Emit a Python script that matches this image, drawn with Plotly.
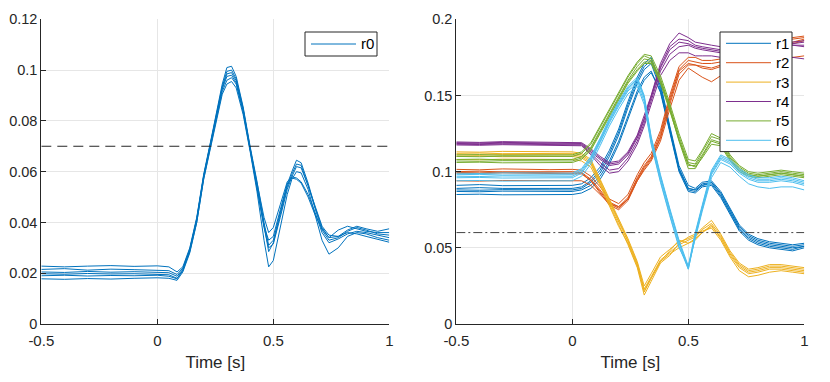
import plotly.graph_objects as go

# ---------------- data ----------------
t_left = [-0.5, -0.4, -0.3, -0.2, -0.1, 0, 0.05, 0.085, 0.11, 0.14, 0.17, 0.2, 0.23, 0.26, 0.28,
          0.3, 0.32, 0.34, 0.37, 0.4, 0.43, 0.46, 0.48, 0.5, 0.53, 0.56, 0.58, 0.6, 0.62, 0.65,
          0.68, 0.71, 0.74, 0.78, 0.82, 0.86, 0.9, 0.95, 1.0]

r0_trials = [
    [0.0228, 0.0225, 0.0228, 0.0230, 0.0227, 0.0229, 0.0225, 0.0205, 0.0225, 0.0300, 0.0420, 0.0590, 0.0720,
     0.0860, 0.0945, 0.1010, 0.1015, 0.0975, 0.0855, 0.0700, 0.0560, 0.0400, 0.0310, 0.0330, 0.0440, 0.0550,
     0.0600, 0.0645, 0.0635, 0.0555, 0.0460, 0.0380, 0.0340, 0.0345, 0.0370, 0.0385, 0.0375, 0.0365, 0.0375],
    [0.0215, 0.0218, 0.0212, 0.0216, 0.0214, 0.0213, 0.0210, 0.0195, 0.0220, 0.0295, 0.0415, 0.0585, 0.0715,
     0.0855, 0.0935, 0.0995, 0.1000, 0.0965, 0.0850, 0.0695, 0.0550, 0.0390, 0.0285, 0.0320, 0.0430, 0.0540,
     0.0590, 0.0630, 0.0625, 0.0545, 0.0455, 0.0370, 0.0330, 0.0340, 0.0365, 0.0380, 0.0370, 0.0355, 0.0350],
    [0.0205, 0.0203, 0.0207, 0.0204, 0.0206, 0.0205, 0.0202, 0.0188, 0.0215, 0.0290, 0.0410, 0.0580, 0.0710,
     0.0845, 0.0925, 0.0975, 0.0980, 0.0950, 0.0840, 0.0690, 0.0560, 0.0420, 0.0360, 0.0380, 0.0470, 0.0560,
     0.0580, 0.0575, 0.0560, 0.0510, 0.0440, 0.0360, 0.0320, 0.0335, 0.0355, 0.0365, 0.0360, 0.0350, 0.0340],
    [0.0198, 0.0196, 0.0199, 0.0197, 0.0198, 0.0196, 0.0194, 0.0180, 0.0210, 0.0285, 0.0400, 0.0570, 0.0700,
     0.0830, 0.0905, 0.0945, 0.0955, 0.0930, 0.0825, 0.0680, 0.0520, 0.0330, 0.0225, 0.0250, 0.0380, 0.0510,
     0.0570, 0.0600, 0.0595, 0.0530, 0.0430, 0.0330, 0.0275, 0.0300, 0.0345, 0.0360, 0.0355, 0.0340, 0.0330],
    [0.0190, 0.0192, 0.0189, 0.0191, 0.0190, 0.0192, 0.0188, 0.0178, 0.0212, 0.0292, 0.0412, 0.0582, 0.0712,
     0.0850, 0.0930, 0.0985, 0.0990, 0.0958, 0.0845, 0.0690, 0.0545, 0.0385, 0.0330, 0.0345, 0.0450, 0.0550,
     0.0575, 0.0570, 0.0555, 0.0500, 0.0430, 0.0375, 0.0340, 0.0370, 0.0385, 0.0375, 0.0365, 0.0360, 0.0360],
    [0.0178, 0.0176, 0.0179, 0.0177, 0.0180, 0.0182, 0.0180, 0.0172, 0.0205, 0.0280, 0.0400, 0.0572, 0.0702,
     0.0835, 0.0915, 0.0960, 0.0970, 0.0945, 0.0835, 0.0685, 0.0540, 0.0380, 0.0300, 0.0315, 0.0420, 0.0530,
     0.0580, 0.0620, 0.0615, 0.0545, 0.0465, 0.0385, 0.0350, 0.0345, 0.0360, 0.0355, 0.0345, 0.0335, 0.0322],
]

t_right = [-0.5, -0.4, -0.3, -0.2, -0.1, 0, 0.04, 0.08, 0.12, 0.16, 0.2, 0.24, 0.28, 0.31, 0.34, 0.38,
           0.42, 0.46, 0.5, 0.53, 0.56, 0.6, 0.64, 0.68, 0.72, 0.76, 0.8, 0.85, 0.9, 0.95, 1.0]

r1_trials = [
    [0.091, 0.0915, 0.0908, 0.091, 0.0912, 0.091, 0.092, 0.096, 0.103, 0.114, 0.128, 0.146, 0.162, 0.171, 0.175, 0.158,
     0.130, 0.104, 0.091, 0.089, 0.093, 0.094, 0.087, 0.076, 0.065, 0.059, 0.056, 0.054, 0.053, 0.052, 0.053],
    [0.089, 0.0895, 0.089, 0.0888, 0.089, 0.089, 0.090, 0.094, 0.101, 0.112, 0.126, 0.144, 0.160, 0.169, 0.173, 0.156,
     0.128, 0.102, 0.089, 0.088, 0.092, 0.093, 0.086, 0.075, 0.064, 0.058, 0.055, 0.053, 0.052, 0.051, 0.052],
    [0.088, 0.0878, 0.0882, 0.088, 0.0879, 0.088, 0.089, 0.093, 0.099, 0.110, 0.124, 0.142, 0.158, 0.167, 0.171, 0.154,
     0.127, 0.101, 0.088, 0.087, 0.091, 0.092, 0.084, 0.073, 0.062, 0.056, 0.053, 0.051, 0.050, 0.049, 0.051],
    [0.087, 0.0868, 0.0872, 0.087, 0.0869, 0.087, 0.088, 0.091, 0.097, 0.107, 0.120, 0.137, 0.153, 0.162, 0.166, 0.152,
     0.126, 0.100, 0.087, 0.086, 0.090, 0.091, 0.083, 0.072, 0.061, 0.055, 0.052, 0.050, 0.049, 0.048, 0.050],
    [0.085, 0.0852, 0.0848, 0.085, 0.0851, 0.085, 0.086, 0.089, 0.095, 0.105, 0.118, 0.135, 0.151, 0.160, 0.165, 0.153,
     0.128, 0.102, 0.089, 0.088, 0.091, 0.093, 0.085, 0.074, 0.063, 0.057, 0.054, 0.052, 0.051, 0.050, 0.051],
]

r2_trials = [
    [0.1015, 0.1012, 0.1018, 0.1015, 0.1013, 0.1015, 0.101, 0.097, 0.090, 0.082, 0.079, 0.085, 0.098, 0.106, 0.112, 0.127,
     0.150, 0.169, 0.175, 0.175, 0.173, 0.173, 0.174, 0.176, 0.178, 0.180, 0.182, 0.184, 0.186, 0.188, 0.189],
    [0.100, 0.1003, 0.0998, 0.100, 0.1002, 0.100, 0.0995, 0.095, 0.088, 0.080, 0.077, 0.083, 0.096, 0.104, 0.110, 0.125,
     0.148, 0.167, 0.173, 0.172, 0.171, 0.171, 0.172, 0.174, 0.176, 0.178, 0.180, 0.182, 0.185, 0.187, 0.188],
    [0.0995, 0.0992, 0.0997, 0.0995, 0.0994, 0.0995, 0.099, 0.094, 0.087, 0.079, 0.076, 0.082, 0.095, 0.103, 0.109, 0.123,
     0.146, 0.166, 0.171, 0.170, 0.169, 0.168, 0.170, 0.172, 0.174, 0.176, 0.178, 0.180, 0.182, 0.184, 0.186],
    [0.099, 0.0988, 0.0992, 0.099, 0.0991, 0.099, 0.0985, 0.094, 0.086, 0.078, 0.075, 0.081, 0.094, 0.102, 0.108, 0.122,
     0.144, 0.164, 0.170, 0.170, 0.168, 0.167, 0.169, 0.171, 0.173, 0.175, 0.177, 0.179, 0.182, 0.185, 0.187],
    [0.094, 0.0938, 0.0942, 0.094, 0.0939, 0.094, 0.094, 0.091, 0.085, 0.079, 0.077, 0.082, 0.094, 0.101, 0.107, 0.120,
     0.141, 0.160, 0.168, 0.165, 0.162, 0.159, 0.163, 0.165, 0.167, 0.169, 0.171, 0.173, 0.174, 0.175, 0.176],
]

r3_trials = [
    [0.113, 0.1128, 0.1133, 0.113, 0.1131, 0.113, 0.112, 0.108, 0.095, 0.082, 0.068, 0.056, 0.041, 0.025, 0.033, 0.044,
     0.049, 0.054, 0.056, 0.058, 0.063, 0.068, 0.059, 0.048, 0.040, 0.036, 0.037, 0.039, 0.039, 0.038, 0.037],
    [0.112, 0.1122, 0.1118, 0.112, 0.1121, 0.112, 0.111, 0.107, 0.094, 0.081, 0.067, 0.055, 0.040, 0.023, 0.031, 0.042,
     0.047, 0.052, 0.055, 0.057, 0.062, 0.066, 0.058, 0.047, 0.039, 0.035, 0.036, 0.038, 0.038, 0.037, 0.036],
    [0.111, 0.1108, 0.1112, 0.111, 0.1109, 0.111, 0.110, 0.106, 0.093, 0.080, 0.066, 0.054, 0.039, 0.021, 0.030, 0.041,
     0.046, 0.050, 0.053, 0.056, 0.060, 0.065, 0.056, 0.045, 0.037, 0.033, 0.034, 0.036, 0.036, 0.035, 0.034],
    [0.110, 0.1102, 0.1098, 0.110, 0.1101, 0.110, 0.109, 0.105, 0.092, 0.079, 0.065, 0.052, 0.037, 0.019, 0.028, 0.040,
     0.045, 0.053, 0.057, 0.059, 0.061, 0.063, 0.055, 0.044, 0.035, 0.031, 0.032, 0.034, 0.035, 0.034, 0.033],
    [0.108, 0.1078, 0.1082, 0.108, 0.1079, 0.108, 0.107, 0.103, 0.091, 0.078, 0.064, 0.053, 0.038, 0.022, 0.030, 0.041,
     0.048, 0.055, 0.053, 0.055, 0.060, 0.064, 0.057, 0.046, 0.038, 0.034, 0.035, 0.037, 0.037, 0.036, 0.035],
]

r4_trials = [
    [0.1195, 0.1192, 0.1197, 0.1195, 0.1194, 0.1195, 0.119, 0.115, 0.110, 0.106, 0.107, 0.113, 0.124, 0.137, 0.150, 0.171,
     0.184, 0.191, 0.188, 0.185, 0.184, 0.183, 0.182, 0.181, 0.181, 0.182, 0.183, 0.184, 0.185, 0.185, 0.186],
    [0.119, 0.1188, 0.1192, 0.119, 0.1189, 0.119, 0.1185, 0.114, 0.109, 0.105, 0.106, 0.112, 0.123, 0.135, 0.149, 0.169,
     0.182, 0.187, 0.186, 0.183, 0.182, 0.181, 0.180, 0.180, 0.180, 0.181, 0.182, 0.183, 0.184, 0.184, 0.185],
    [0.1185, 0.1183, 0.1187, 0.1185, 0.1184, 0.1185, 0.118, 0.113, 0.108, 0.104, 0.105, 0.111, 0.122, 0.134, 0.148, 0.168,
     0.180, 0.185, 0.184, 0.182, 0.181, 0.180, 0.179, 0.179, 0.179, 0.180, 0.181, 0.182, 0.183, 0.183, 0.183],
    [0.118, 0.1178, 0.1182, 0.118, 0.1179, 0.118, 0.1175, 0.112, 0.106, 0.101, 0.102, 0.109, 0.120, 0.132, 0.146, 0.166,
     0.177, 0.182, 0.183, 0.181, 0.180, 0.179, 0.178, 0.178, 0.179, 0.180, 0.181, 0.182, 0.182, 0.183, 0.182],
    [0.1175, 0.1173, 0.1177, 0.1175, 0.1174, 0.1175, 0.117, 0.111, 0.104, 0.099, 0.100, 0.107, 0.118, 0.130, 0.144, 0.163,
     0.173, 0.178, 0.178, 0.176, 0.176, 0.176, 0.175, 0.175, 0.175, 0.175, 0.175, 0.175, 0.175, 0.175, 0.174],
]

r5_trials = [
    [0.111, 0.1112, 0.1108, 0.111, 0.1111, 0.111, 0.113, 0.119, 0.130, 0.141, 0.152, 0.163, 0.172, 0.177, 0.176, 0.163,
     0.145, 0.125, 0.108, 0.107, 0.114, 0.125, 0.122, 0.111, 0.104, 0.100, 0.099, 0.100, 0.101, 0.100, 0.099],
    [0.110, 0.1098, 0.1102, 0.110, 0.1099, 0.110, 0.112, 0.118, 0.129, 0.140, 0.151, 0.162, 0.171, 0.176, 0.174, 0.161,
     0.143, 0.123, 0.106, 0.105, 0.113, 0.123, 0.121, 0.110, 0.103, 0.099, 0.098, 0.099, 0.100, 0.099, 0.098],
    [0.108, 0.1082, 0.1078, 0.108, 0.1081, 0.108, 0.110, 0.116, 0.127, 0.138, 0.149, 0.160, 0.169, 0.174, 0.173, 0.160,
     0.142, 0.121, 0.104, 0.104, 0.111, 0.121, 0.119, 0.109, 0.102, 0.098, 0.097, 0.098, 0.099, 0.098, 0.097],
    [0.107, 0.1068, 0.1072, 0.107, 0.1069, 0.107, 0.109, 0.115, 0.126, 0.137, 0.148, 0.159, 0.167, 0.172, 0.172, 0.159,
     0.141, 0.120, 0.102, 0.102, 0.110, 0.120, 0.118, 0.108, 0.101, 0.098, 0.097, 0.098, 0.099, 0.098, 0.097],
    [0.106, 0.1062, 0.1058, 0.106, 0.1061, 0.106, 0.108, 0.114, 0.125, 0.136, 0.147, 0.158, 0.166, 0.171, 0.171, 0.158,
     0.140, 0.121, 0.105, 0.103, 0.109, 0.118, 0.117, 0.107, 0.100, 0.097, 0.096, 0.097, 0.098, 0.097, 0.096],
]

r6_trials = [
    [0.099, 0.0988, 0.0992, 0.099, 0.0989, 0.099, 0.102, 0.110, 0.122, 0.135, 0.146, 0.156, 0.162, 0.150, 0.123, 0.098,
     0.076, 0.055, 0.038, 0.060, 0.078, 0.101, 0.111, 0.108, 0.102, 0.098, 0.096, 0.096, 0.097, 0.096, 0.094],
    [0.098, 0.0982, 0.0978, 0.098, 0.0981, 0.098, 0.101, 0.109, 0.121, 0.134, 0.145, 0.155, 0.161, 0.149, 0.122, 0.097,
     0.075, 0.054, 0.037, 0.059, 0.077, 0.100, 0.110, 0.107, 0.101, 0.097, 0.095, 0.095, 0.096, 0.095, 0.093],
    [0.097, 0.0968, 0.0972, 0.097, 0.0969, 0.097, 0.100, 0.108, 0.120, 0.133, 0.144, 0.154, 0.160, 0.148, 0.121, 0.096,
     0.074, 0.053, 0.036, 0.058, 0.076, 0.099, 0.109, 0.106, 0.100, 0.096, 0.094, 0.094, 0.095, 0.094, 0.092],
    [0.096, 0.0962, 0.0958, 0.096, 0.0961, 0.096, 0.099, 0.107, 0.119, 0.132, 0.143, 0.153, 0.158, 0.146, 0.119, 0.094,
     0.072, 0.051, 0.036, 0.057, 0.075, 0.098, 0.108, 0.105, 0.099, 0.095, 0.093, 0.093, 0.094, 0.093, 0.091],
    [0.094, 0.0942, 0.0938, 0.094, 0.0941, 0.094, 0.097, 0.105, 0.117, 0.130, 0.141, 0.151, 0.156, 0.144, 0.118, 0.093,
     0.071, 0.050, 0.038, 0.056, 0.074, 0.096, 0.106, 0.103, 0.097, 0.092, 0.090, 0.089, 0.090, 0.090, 0.088],
]

left_threshold = 0.07
right_threshold = 0.06

left_name = "r0"
left_color = "#0072BD"
series_names = ["r1", "r2", "r3", "r4", "r5", "r6"]
series_colors = ["#0072BD", "#D95319", "#EDB120", "#7E2F8E", "#77AC30", "#4DBEEE"]
right_series = [r1_trials, r2_trials, r3_trials, r4_trials, r5_trials, r6_trials]

x_tickvals = [-0.5, 0, 0.5, 1]
x_ticktext = ["-0.5", "0", "0.5", "1"]
yl_tickvals = [0, 0.02, 0.04, 0.06, 0.08, 0.1, 0.12]
yl_ticktext = ["0", "0.02", "0.04", "0.06", "0.08", "0.1", "0.12"]
yr_tickvals = [0, 0.05, 0.1, 0.15, 0.2]
yr_ticktext = ["0", "0.05", "0.1", "0.15", "0.2"]

# ---------------- figure ----------------
FONT = "Liberation Sans, Arial, Helvetica, sans-serif"
AX = "#262626"
GRID = "#e6e6e6"

# page body has an 8px margin: the figure is placed at (8, 8) in the window
OFF = 8
W, H = 822, 374


def fx(px):  # window pixel -> paper fraction
    return (px - OFF) / W


def fy(py):
    return 1 - (py - OFF) / H


fig = go.Figure()

for i, tr in enumerate(r0_trials):
    fig.add_trace(go.Scatter(x=t_left, y=tr, mode="lines", name=left_name,
                             line=dict(color=left_color, width=1), showlegend=False,
                             xaxis="x", yaxis="y", hoverinfo="skip"))
fig.add_trace(go.Scatter(x=[-0.5, 1], y=[left_threshold, left_threshold], mode="lines",
                         line=dict(color="#262626", width=1, dash="10px,6px"),
                         showlegend=False, xaxis="x", yaxis="y", hoverinfo="skip"))

for name, color, trials in zip(series_names, series_colors, right_series):
    for i, tr in enumerate(trials):
        fig.add_trace(go.Scatter(x=t_right, y=tr, mode="lines", name=name,
                                 line=dict(color=color, width=1), showlegend=False,
                                 xaxis="x2", yaxis="y2", hoverinfo="skip"))
fig.add_trace(go.Scatter(x=[-0.5, 1], y=[right_threshold, right_threshold], mode="lines",
                         line=dict(color="#444444", width=1, dash="9px,3px,2px,3px"),
                         showlegend=False, xaxis="x2", yaxis="y2", hoverinfo="skip"))

# ---------------- legends (MATLAB-style boxes) ----------------
shapes = []
annotations = []


def add_legend(names, colors, box_left, box_right, box_top, first_y, step):
    n = len(names)
    box_bottom = first_y + step * (n - 1) + (first_y - box_top)
    shapes.append(dict(type="rect", xref="paper", yref="paper", layer="above",
                       x0=fx(box_left), x1=fx(box_right), y0=fy(box_bottom), y1=fy(box_top),
                       fillcolor="white", line=dict(color=AX, width=1)))
    for k, (nm, col) in enumerate(zip(names, colors)):
        yy = first_y + step * k
        shapes.append(dict(type="line", xref="paper", yref="paper", layer="above",
                           x0=fx(box_left + 6), x1=fx(box_left + 51), y0=fy(yy), y1=fy(yy),
                           line=dict(color=col, width=1)))
        annotations.append(dict(xref="paper", yref="paper", x=fx(box_left + 54), y=fy(yy),
                                xanchor="left", yanchor="middle", text=nm, showarrow=False,
                                font=dict(family=FONT, size=15, color="#000000")))


add_legend([left_name], [left_color], 305, 377, 32, 44, 19.4)
add_legend(series_names, series_colors, 720, 792, 32, 43.3, 19.4)

common_x = dict(range=[-0.5, 1], tickvals=x_tickvals, ticktext=x_ticktext,
                showgrid=True, gridcolor=GRID, gridwidth=1, zeroline=False,
                showline=True, linecolor=AX, linewidth=1, ticks="inside", ticklen=5,
                tickcolor=AX, tickfont=dict(family=FONT, size=15, color=AX),
                title=dict(text="Time [s]", font=dict(family=FONT, size=17, color=AX), standoff=8),
                mirror=False, fixedrange=True, automargin=False, ticklabelstandoff=3)
common_y = dict(showgrid=True, gridcolor=GRID, gridwidth=1, zeroline=False,
                showline=True, linecolor=AX, linewidth=1, ticks="inside", ticklen=5,
                tickcolor=AX, tickfont=dict(family=FONT, size=14.5, color=AX),
                mirror=False, fixedrange=True, automargin=False, ticklabelstandoff=0)

fig.update_layout(
    width=W, height=H,
    margin=dict(l=0, r=0, t=0, b=0, autoexpand=False),
    paper_bgcolor="white", plot_bgcolor="white",
    xaxis=dict(domain=[fx(41.3), fx(389.3)], anchor="y", **common_x),
    yaxis=dict(domain=[fy(324), fy(19.3)], anchor="x", range=[0, 0.12],
               tickvals=yl_tickvals, ticktext=yl_ticktext, **common_y),
    xaxis2=dict(domain=[fx(456.3), fx(804.3)], anchor="y2", **common_x),
    yaxis2=dict(domain=[fy(324), fy(19.3)], anchor="x2", range=[0, 0.2],
                tickvals=yr_tickvals, ticktext=yr_ticktext, **common_y),
    shapes=shapes,
    annotations=annotations,
    showlegend=False,
)

fig.write_html("out.html")
